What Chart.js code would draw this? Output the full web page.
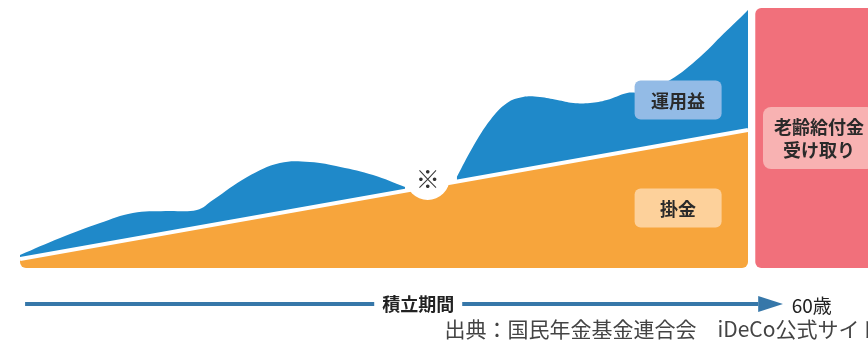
<!DOCTYPE html>
<html lang="ja">
<head>
<meta charset="utf-8">
<title>iDeCo 積立期間のイメージ</title>
<script src="https://cdn.jsdelivr.net/npm/chart.js@4.4.1/dist/chart.umd.min.js"></script>
<style>
  html, body { margin: 0; padding: 0; background: #fff; overflow: hidden; }
  .wrap { width: 868px; height: 340px; overflow: hidden; }
  canvas { display: block; }
</style>
</head>
<body>
<div class="wrap"><canvas id="chart" width="900" height="340"></canvas></div>
<script>
// x = 積立期間 (0 = 加入 … 100 = 60歳), y = 資産額のイメージ (相対値)
const contribX = [0, 100];
const contribY = [9, 138];

// 運用益の上端。null の所は ※ の丸で途切れる
const growthX = [0, 5.5, 11, 15.5, 20, 24.3, 26.5, 31.2, 35.7, 39.8, 44, 48.5, 52.9,
                 56, 60, 62.2, 64.6, 66.9, 69.1, 71.4, 73.8, 76, 78.3, 80.6, 83.4,
                 85.2, 89.3, 93.4, 96.2, 99.6, 100];
const growthY = [13, 30, 45, 55, 57, 58, 68, 91, 105, 106, 101, 93, 81,
                 null, 91, 121, 148, 165, 171, 171, 168, 165, 165, 168, 175,
                 176, 188, 211, 231, 255, 258];

// 60歳以降 (受け取り期間)
const payoutX = [101, 118.5];
const payoutTop = 260;

const noteX = [56];
const noteY = [90];

const ORANGE = '#f7a53c';
const BLUE   = '#1f89c9';
const PINK   = '#f1707b';

const pts = (xs, ys) => xs.map((x, i) => ({ x, y: ys[i] }));

function boxPath(ctx, x0, y0, x1, y1, r) {
  ctx.beginPath();
  ctx.moveTo(x0 + r, y0);
  ctx.lineTo(x1 - r, y0);
  ctx.arcTo(x1, y0, x1, y0 + r, r);
  ctx.lineTo(x1, y1 - r);
  ctx.arcTo(x1, y1, x1 - r, y1, r);
  ctx.lineTo(x0 + r, y1);
  ctx.arcTo(x0, y1, x0, y1 - r, r);
  ctx.lineTo(x0, y0 + r);
  ctx.arcTo(x0, y0, x0 + r, y0, r);
  ctx.closePath();
}

function tag(ctx, cx, cy, w, h, r, fill) {
  boxPath(ctx, cx - w / 2, cy - h / 2, cx + w / 2, cy + h / 2, r);
  ctx.fillStyle = fill;
  ctx.fill();
}

const JP = '"Noto Sans CJK JP", "Noto Sans", sans-serif';

// 受け取り期間の箱・ラベル・下の矢印を描く
const scheme = {
  id: 'scheme',
  beforeDatasetsDraw(chart) {
    const { ctx, scales: { x, y } } = chart;
    boxPath(ctx, x.getPixelForValue(payoutX[0]), y.getPixelForValue(payoutTop),
            x.getPixelForValue(payoutX[1]), y.getPixelForValue(0), 6);
    ctx.fillStyle = PINK;
    ctx.fill();

    // 積立エリアの角を丸める
    ctx.save();
    boxPath(ctx, x.getPixelForValue(contribX[0]), chart.chartArea.top - 20,
            x.getPixelForValue(contribX[1]), y.getPixelForValue(0), 6);
    ctx.clip();
  },
  afterDatasetsDraw(chart) {
    const { ctx, scales: { x, y } } = chart;
    ctx.restore();

    ctx.save();
    ctx.textAlign = 'center';
    ctx.textBaseline = 'middle';

    const dot = chart.getDatasetMeta(2).data[0];
    ctx.fillStyle = '#333';
    ctx.font = '24px ' + JP;
    ctx.fillText('※', dot.x, dot.y + 1);

    ctx.font = 'bold 18px ' + JP;
    let cx = x.getPixelForValue(90.4);
    tag(ctx, cx, y.getPixelForValue(168), 87, 39, 6, '#93bbe6');
    tag(ctx, cx, y.getPixelForValue(60), 87, 39, 6, '#fdd19b');
    ctx.fillStyle = '#2a2a2a';
    ctx.fillText('運用益', cx, y.getPixelForValue(168) + 1);
    ctx.fillText('掛金', cx, y.getPixelForValue(60) + 1);

    cx = x.getPixelForValue(109.75);
    const cy = y.getPixelForValue(130);
    tag(ctx, cx, cy, 112, 62, 8, '#f8b2b2');
    ctx.fillStyle = '#2a2a2a';
    ctx.fillText('老齢給付金', cx, cy - 11);
    ctx.fillText('受け取り', cx, cy + 12);

    // 積立期間の矢印
    const ay = y.getPixelForValue(-36);
    const headBase = x.getPixelForValue(101.4);
    const tip = x.getPixelForValue(104.8);
    ctx.fillStyle = '#3677a9';
    ctx.fillRect(x.getPixelForValue(0.7), ay - 2, headBase - x.getPixelForValue(0.7), 4);
    ctx.beginPath();
    ctx.moveTo(headBase, ay - 8);
    ctx.lineTo(tip, ay);
    ctx.lineTo(headBase, ay + 8);
    ctx.closePath();
    ctx.fill();

    ctx.font = '600 18px ' + JP;
    const lx = x.getPixelForValue(54.7);
    const lw = ctx.measureText('積立期間').width + 16;
    ctx.fillStyle = '#fff';
    ctx.fillRect(lx - lw / 2, ay - 12, lw, 24);
    ctx.fillStyle = '#222';
    ctx.fillText('積立期間', lx, ay);

    ctx.textAlign = 'left';
    ctx.font = '19px ' + JP;
    ctx.fillText('60歳', x.getPixelForValue(106), ay + 2);

    ctx.font = '21px ' + JP;
    ctx.fillStyle = '#444';
    ctx.fillText('出典：国民年金基金連合会　iDeCo公式サイト', x.getPixelForValue(58.3), y.getPixelForValue(-61.5));
    ctx.restore();
  }
};

new Chart(document.getElementById('chart'), {
  type: 'line',
  data: {
    datasets: [
      {
        label: '掛金',
        data: pts(contribX, contribY),
        borderColor: '#fff',
        borderWidth: 4,
        backgroundColor: ORANGE,
        fill: 'origin',
        tension: 0,
        pointRadius: 0,
        order: 1
      },
      {
        label: '運用益',
        data: pts(growthX, growthY),
        borderColor: 'rgba(0,0,0,0)',
        borderWidth: 1,
        backgroundColor: BLUE,
        fill: '-1',
        tension: 0.4,
        spanGaps: false,
        pointRadius: 0,
        order: 2
      },
      {
        label: '※',
        data: pts(noteX, noteY),
        showLine: false,
        fill: false,
        pointRadius: 22,
        pointBackgroundColor: '#fff',
        pointBorderWidth: 0,
        pointBorderColor: '#fff',
        order: 0
      }
    ]
  },
  options: {
    responsive: false,
    animation: false,
    layout: { autoPadding: false, padding: { left: 20, right: 6.4, top: 8, bottom: 72 } },
    plugins: {
      legend: { display: false },
      tooltip: { enabled: false }
    },
    scales: {
      x: { type: 'linear', min: 0, max: 120, display: false },
      y: { min: 0, max: 260, display: false }
    }
  },
  plugins: [scheme]
});
</script>
</body>
</html>
